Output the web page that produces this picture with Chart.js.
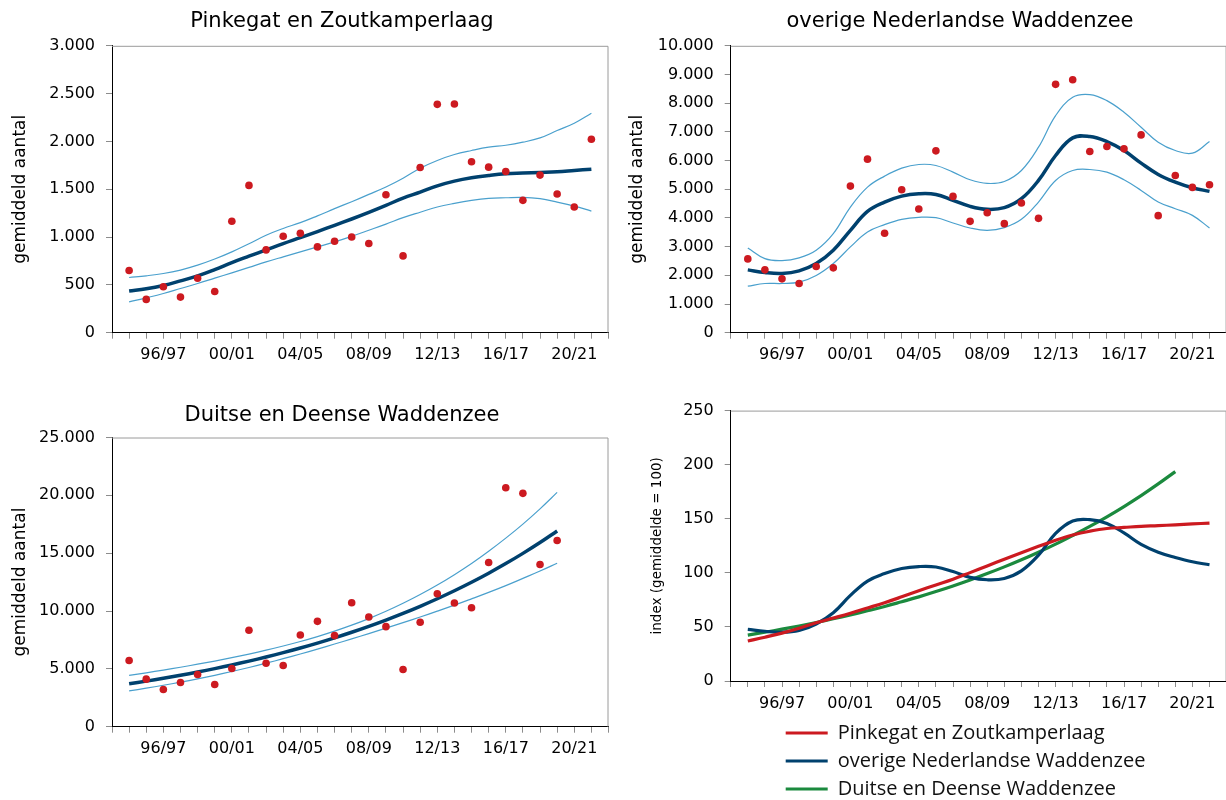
<!DOCTYPE html>
<html>
<head>
<meta charset="utf-8">
<script src="https://cdn.jsdelivr.net/npm/chart.js@4.4.0/dist/chart.umd.min.js"></script>
<style>
html, body { margin: 0; padding: 0; background: #fff; overflow: hidden; width: 1226px; height: 800px; }
canvas { position: absolute; }
</style>
</head>
<body>
<canvas id="c1" width="684" height="370" style="left:0;top:0"></canvas>
<canvas id="c2" width="680" height="370" style="left:620px;top:0"></canvas>
<canvas id="c3" width="684" height="370" style="left:0;top:394px"></canvas>
<canvas id="c4" width="680" height="419" style="left:620px;top:390px"></canvas>
<script>
const seasons = ['94/95','95/96','96/97','97/98','98/99','99/00','00/01','01/02','02/03','03/04',
    '04/05','05/06','06/07','07/08','08/09','09/10','10/11','11/12','12/13','13/14',
    '14/15','15/16','16/17','17/18','18/19','19/20','20/21','21/22'];
const tickSeasons = ['96/97', '00/01', '04/05', '08/09', '12/13', '16/17', '20/21'];

// Pinkegat en Zoutkamperlaag
const pinkCounts = [650, 348, 480, 372, 570, 431, 1165, 1540, 866, 1008, 1039, 897, 956, 1001, 932, 1443, 803, 1728, 2388, 2392, 1787, 1731, 1686, 1384, 1648, 1450, 1314, 2023];
const pinkTrend = [435, 459, 494, 542, 594, 660, 733, 800, 866, 932, 994, 1057, 1123, 1189, 1258, 1331, 1408, 1470, 1536, 1585, 1620, 1644, 1662, 1669, 1675, 1682, 1696, 1710];
const pinkUpper = [577, 595, 619, 655, 706, 770, 845, 930, 1019, 1090, 1151, 1222, 1297, 1370, 1446, 1523, 1615, 1720, 1801, 1863, 1905, 1940, 1960, 1992, 2037, 2114, 2190, 2294];
const pinkLower = [323, 365, 410, 462, 514, 570, 626, 683, 740, 793, 845, 897, 949, 1008, 1071, 1135, 1203, 1260, 1314, 1352, 1383, 1404, 1411, 1415, 1401, 1366, 1324, 1272];

// overige Nederlandse Waddenzee
const ovCounts = [2572, 2190, 1877, 1715, 2306, 2260, 5110, 6049, 3465, 4983, 4311, 6338, 4751, 3882, 4183, 3801, 4519, 3986, 8656, 8818, 6315, 6489, 6408, 6895, 4079, 5481, 5064, 5156];
const ovTrend = [2190, 2097, 2063, 2155, 2410, 2874, 3569, 4229, 4554, 4762, 4844, 4820, 4612, 4403, 4299, 4357, 4670, 5307, 6176, 6790, 6837, 6663, 6350, 5910, 5516, 5249, 5052, 4925];
const ovUpper = [2955, 2584, 2515, 2607, 2874, 3453, 4380, 5075, 5458, 5736, 5863, 5829, 5597, 5330, 5203, 5272, 5655, 6466, 7567, 8204, 8297, 8088, 7683, 7161, 6640, 6350, 6257, 6663];
const ovLower = [1622, 1715, 1715, 1761, 1993, 2410, 2990, 3511, 3766, 3951, 4021, 4009, 3824, 3650, 3569, 3662, 3951, 4554, 5307, 5655, 5689, 5597, 5330, 4959, 4554, 4322, 4090, 3650];

// Duitse en Deense Waddenzee (t/m 19/20)
const duCounts = [5718, 4109, 3218, 3822, 4511, 3649, 5029, 8333, 5489, 5287, 7931, 9109, 7874, 10718, 9483, 8649, 4943, 9023, 11494, 10690, 10287, 14195, 20661, 20172, 14023, 16092];
const duTrend = [3707, 3939, 4186, 4448, 4726, 5022, 5337, 5671, 6026, 6403, 6804, 7230, 7683, 8164, 8675, 9218, 9795, 10408, 11060, 11752, 12488, 13270, 14100, 14983, 15921, 16918];
const duUpper = [4437, 4660, 4893, 5142, 5402, 5675, 5969, 6281, 6615, 6975, 7365, 7790, 8259, 8776, 9347, 9978, 10670, 11426, 12250, 13145, 14111, 15168, 16300, 17515, 18835, 20251];
const duLower = [3095, 3328, 3583, 3848, 4135, 4444, 4771, 5121, 5490, 5878, 6287, 6709, 7145, 7593, 8050, 8517, 8992, 9482, 9987, 10506, 11052, 11611, 12197, 12821, 13453, 14127];

// index (gemiddelde = 100)
const idxPink = [37.0, 40.5, 44.3, 48.8, 53.8, 58.2, 62.7, 67.5, 72.4, 77.8, 83.4, 88.8, 94.1, 100.2, 106.4, 112.5, 118.6, 124.5, 130.2, 135.0, 138.5, 141.0, 142.0, 143.0, 143.6, 144.4, 145.2, 146.0];
const idxOverig = [47.7, 46.0, 45.1, 46.8, 52.7, 63.1, 79.1, 92.4, 99.3, 104.0, 105.8, 105.4, 101.2, 95.8, 93.6, 94.8, 101.8, 116.3, 136.5, 148.0, 149.2, 145.7, 136.9, 126.3, 119.1, 114.2, 110.2, 107.5];
const idxDuits = [42.4, 45.1, 47.9, 50.9, 54.1, 57.5, 61.1, 64.9, 68.9, 73.3, 77.8, 82.7, 87.9, 93.4, 99.3, 105.5, 112.1, 119.1, 126.5, 134.5, 142.9, 151.8, 161.3, 171.4, 182.2, 193.6];

const FONT = "'DejaVu Sans', Verdana, sans-serif";
const COLORS = {
    red: '#cc1a20',
    navy: '#00416e',
    band: '#4aa0cd',
    green: '#1b8a3e',
    tick: '#8c8c8c',
    frame: '#9a9a9a'
};

Chart.defaults.font.family = FONT;
Chart.defaults.color = '#000';

// one empty slot left and right of the seasons, like the original axis
const axisLabels = ['', ...seasons, ''];
const pad = arr => [null, ...arr];
const dutch = v => String(v).replace(/\B(?=(\d{3})+(?!\d))/g, '.');

// grey top and right border of the plot area
const frame = {
    id: 'frame',
    beforeDatasetsDraw(chart) {
        const { ctx, chartArea: a } = chart;
        ctx.save();
        ctx.strokeStyle = COLORS.frame;
        ctx.lineWidth = 1;
        ctx.beginPath();
        ctx.moveTo(a.left, a.top + 0.5);
        ctx.lineTo(a.right - 0.5, a.top + 0.5);
        ctx.lineTo(a.right - 0.5, a.bottom);
        ctx.stroke();
        ctx.restore();
    }
};

// moves the legend to the right, rows stay left aligned
const legendShift = {
    id: 'legendShift',
    afterLayout(chart) {
        if (chart.legend && chart.options.plugins.legend.display) {
            chart.legend.left += 47;
            chart.legend.right += 47;
        }
    }
};

function makeScales(yMax, yStep, yTitle, yWidth, rightWidth, xHeight, titleSize, titleOffset, fmt) {
    return {
        x: {
            type: 'category',
            offset: false,
            grid: { drawOnChartArea: false, drawTicks: true, tickLength: 6, color: COLORS.tick },
            border: { color: '#000', width: 1 },
            ticks: {
                autoSkip: false,
                maxRotation: 0,
                padding: 7,
                font: { size: 16 },
                callback(v) {
                    const l = this.getLabelForValue(v);
                    return tickSeasons.includes(l) ? l : '';
                }
            },
            afterFit(s) { s.height = xHeight; }
        },
        y: {
            min: 0,
            max: yMax,
            grid: { drawOnChartArea: false, drawTicks: true, tickLength: 6, color: COLORS.tick },
            border: { color: '#000', width: 1 },
            ticks: { stepSize: yStep, padding: 11, font: { size: 16 }, callback: fmt },
            title: {
                display: true,
                text: yTitle,
                font: { size: titleSize },
                padding: { top: titleOffset, bottom: 0 }
            },
            afterFit(s) { s.width = yWidth; }
        },
        // empty space right of the plot, keeps the title centred on the canvas
        yRight: {
            position: 'right',
            grid: { display: false, drawTicks: false },
            border: { display: false },
            ticks: { display: false },
            afterFit(s) { s.width = rightWidth; }
        }
    };
}

function countDatasets(counts, trend, upper, lower) {
    return [
        {
            label: 'aantal',
            data: pad(counts),
            showLine: false,
            pointRadius: 3.8,
            pointHoverRadius: 3.8,
            pointBackgroundColor: COLORS.red,
            pointBorderWidth: 0
        },
        { label: 'trend', data: pad(trend), borderColor: COLORS.navy, borderWidth: 3.5, pointRadius: 0, tension: 0.4 },
        { label: 'boven', data: pad(upper), borderColor: COLORS.band, borderWidth: 1.2, pointRadius: 0, tension: 0.4 },
        { label: 'onder', data: pad(lower), borderColor: COLORS.band, borderWidth: 1.2, pointRadius: 0, tension: 0.4 }
    ];
}

function countChart(id, title, titlePad, datasets, yMax, yStep, yWidth, rightWidth, yTitleOffset) {
    return new Chart(document.getElementById(id), {
        type: 'line',
        data: { labels: axisLabels, datasets: datasets },
        options: {
            responsive: false,
            animation: false,
            devicePixelRatio: 1,
            layout: { padding: 0 },
            plugins: {
                legend: { display: false },
                tooltip: { enabled: false },
                title: {
                    display: true,
                    text: title,
                    color: '#000',
                    font: { size: 21, weight: 'normal' },
                    padding: titlePad
                }
            },
            scales: makeScales(yMax, yStep, 'gemiddeld aantal', yWidth, rightWidth, 37.3, 17, yTitleOffset, dutch)
        },
        plugins: [frame]
    });
}

countChart('c1', 'Pinkegat en Zoutkamperlaag', { top: 9, bottom: 11.6 },
    countDatasets(pinkCounts, pinkTrend, pinkUpper, pinkLower), 3000, 500, 112, 75.5, 10);

countChart('c2', 'overige Nederlandse Waddenzee', { top: 9, bottom: 11.6 },
    countDatasets(ovCounts, ovTrend, ovUpper, ovLower), 10000, 1000, 110.7, 73.4, 7);

countChart('c3', 'Duitse en Deense Waddenzee', { top: 9, bottom: 9.3 },
    countDatasets(duCounts, duTrend, duUpper, duLower), 25000, 5000, 112, 75.5, 10);

new Chart(document.getElementById('c4'), {
    type: 'line',
    data: {
        labels: axisLabels,
        datasets: [
            { label: 'Pinkegat en Zoutkamperlaag', data: pad(idxPink), borderColor: COLORS.red, backgroundColor: COLORS.red, borderWidth: 3.2, pointRadius: 0, tension: 0.4 },
            { label: 'overige Nederlandse Waddenzee', data: pad(idxOverig), borderColor: COLORS.navy, backgroundColor: COLORS.navy, borderWidth: 3.2, pointRadius: 0, tension: 0.4 },
            { label: 'Duitse en Deense Waddenzee', data: pad(idxDuits), borderColor: COLORS.green, backgroundColor: COLORS.green, borderWidth: 3.2, pointRadius: 0, tension: 0.4 }
        ]
    },
    options: {
        responsive: false,
        animation: false,
        devicePixelRatio: 1,
        layout: { padding: { left: 0, right: 0, top: 18.3, bottom: 0 } },
        plugins: {
            tooltip: { enabled: false },
            title: { display: false },
            legend: {
                display: true,
                position: 'bottom',
                align: 'start',
                fullSize: false,
                labels: {
                    usePointStyle: true,
                    pointStyle: 'line',
                    pointStyleWidth: 42,
                    padding: 8,
                    color: '#111',
                    font: { family: "'Open Sans', sans-serif", size: 20 }
                }
            }
        },
        scales: makeScales(250, 50, 'index (gemiddelde = 100)', 110.7, 73.4, 34, 13.5, 29, v => v)
    },
    plugins: [frame, legendShift]
});
</script>
</body>
</html>
